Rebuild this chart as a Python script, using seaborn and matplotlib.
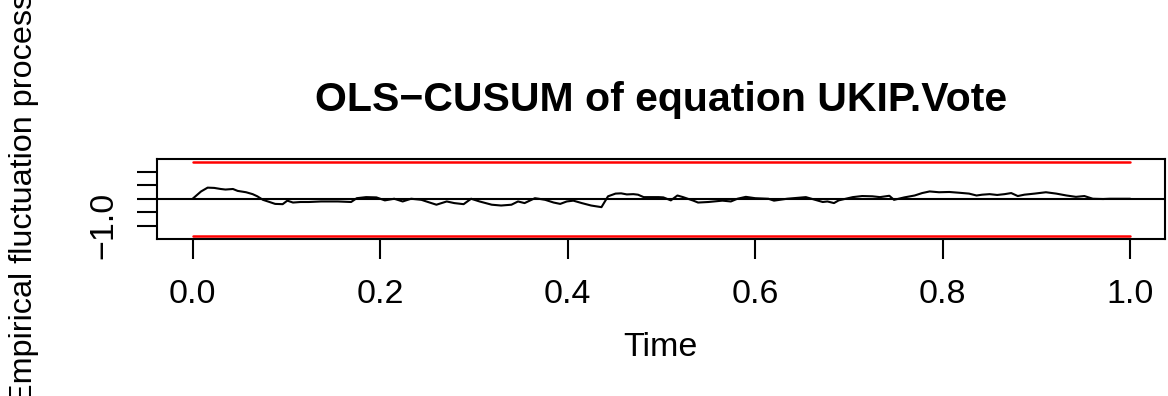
import numpy as np
import pandas as pd
import matplotlib
matplotlib.use("Agg")
import matplotlib.pyplot as plt
import seaborn as sns

# values
time = [0.000, 0.009, 0.016, 0.023, 0.030, 0.035, 0.043, 0.048, 0.057, 0.064,
        0.069, 0.075, 0.082, 0.088, 0.096, 0.101, 0.107, 0.115, 0.124, 0.137,
        0.155, 0.169, 0.175, 0.185, 0.196, 0.205, 0.215, 0.224, 0.233, 0.244,
        0.251, 0.260, 0.271, 0.279, 0.289, 0.297, 0.306, 0.319, 0.329, 0.340,
        0.347, 0.354, 0.365, 0.369, 0.376, 0.385, 0.392, 0.399, 0.406, 0.415,
        0.425, 0.436, 0.443, 0.451, 0.457, 0.463, 0.470, 0.475, 0.481, 0.497,
        0.502, 0.510, 0.517, 0.523, 0.534, 0.539, 0.550, 0.565, 0.574, 0.581,
        0.590, 0.600, 0.614, 0.620, 0.634, 0.654, 0.664, 0.672, 0.677, 0.684,
        0.689, 0.704, 0.714, 0.725, 0.733, 0.743, 0.748, 0.759, 0.770, 0.778,
        0.786, 0.796, 0.807, 0.818, 0.828, 0.836, 0.842, 0.850, 0.858, 0.866,
        0.873, 0.880, 0.887, 0.898, 0.910, 0.921, 0.932, 0.942, 0.951, 0.960,
        0.971, 0.978, 1.000]
process = [0.00, 0.27, 0.41, 0.40, 0.36, 0.34, 0.36, 0.29, 0.24, 0.17,
           0.09, -0.04, -0.12, -0.19, -0.20, -0.07, -0.14, -0.12, -0.12, -0.10,
           -0.10, -0.12, 0.02, 0.06, 0.05, -0.06, 0.00, -0.10, 0.00, -0.04,
           -0.12, -0.22, -0.10, -0.16, -0.20, 0.00, -0.10, -0.22, -0.25, -0.22,
           -0.10, -0.16, 0.02, 0.00, -0.04, -0.14, -0.19, -0.10, -0.07, -0.16,
           -0.25, -0.31, 0.09, 0.19, 0.20, 0.16, 0.17, 0.15, 0.06, 0.06,
           0.05, -0.06, 0.12, 0.06, -0.07, -0.14, -0.12, -0.07, -0.10, 0.00,
           0.07, 0.02, 0.00, -0.07, 0.00, 0.06, -0.04, -0.12, -0.10, -0.16,
           -0.06, 0.06, 0.10, 0.09, 0.06, 0.11, -0.04, 0.05, 0.12, 0.21,
           0.27, 0.24, 0.25, 0.22, 0.19, 0.12, 0.15, 0.17, 0.14, 0.17,
           0.21, 0.10, 0.15, 0.19, 0.24, 0.19, 0.12, 0.07, 0.10, 0.00,
           -0.01, 0.00, 0.00]
boundary = 1.358
xticks = [0.0, 0.2, 0.4, 0.6, 0.8, 1.0]
yticks = [-1.0, -0.5, 0.0, 0.5, 1.0]
ytick_labels = ["\u22121.0", "", "", "", ""]

df = pd.DataFrame({"Time": time, "process": process})
bounds = pd.DataFrame({"Time": [0.0, 1.0]})

sns.set_style("white")
plt.rcParams["font.family"] = ["Liberation Sans", "DejaVu Sans"]
plt.rcParams["axes.unicode_minus"] = True
plt.rcParams["text.color"] = "black"
plt.rcParams["axes.labelcolor"] = "black"

W, H = 1168, 396
fig = plt.figure(figsize=(W / 100, H / 100), dpi=100)
# plot box in pixels: left 157, right 1165, top 159, bottom 238.5
ax = fig.add_axes([157 / W, 1 - 238.5 / H, 1008 / W, 79.5 / H])

lw = 1.5
base = 24.5
sns.lineplot(data=df, x="Time", y="process", ax=ax, color="black", linewidth=lw)
ax.axhline(0, color="black", linewidth=lw)
sns.lineplot(x=bounds["Time"], y=[boundary, boundary], ax=ax, color="red", linewidth=lw + 0.3)
sns.lineplot(x=bounds["Time"], y=[-boundary, -boundary], ax=ax, color="red", linewidth=lw + 0.3)

ax.set_xlim(-0.038, 1.037)
ax.set_ylim(-1.467, 1.467)
ax.set_xticks(xticks)
ax.set_xticklabels([f"{v:.1f}" for v in xticks])
ax.set_yticks(yticks)
ax.set_yticklabels(ytick_labels)

for s in ax.spines.values():
    s.set_visible(True)
    s.set_color("black")
    s.set_linewidth(lw)

ax.tick_params(axis="both", direction="out", length=14.4, width=lw, color="black",
               labelsize=base, labelcolor="black", bottom=True, left=True)
ax.tick_params(axis="x", pad=15)
ax.tick_params(axis="y", pad=13)
plt.setp(ax.get_yticklabels(), rotation=90, va="center")

ax.set_xlabel("Time", fontsize=base)
ax.xaxis.label.set_va("center")
ax.xaxis.set_label_coords((660 - 157) / 1008, (238.5 - 348) / 79.5)
ax.set_ylabel("Empirical fluctuation process", fontsize=23.3)
ax.yaxis.label.set_va("center")
ax.yaxis.set_label_coords((24 - 157) / 1008, 0.5)

fig.text(661 / W, 1 - 100 / H, "OLS\u2212CUSUM of equation UKIP.Vote",
         ha="center", va="center", fontsize=29.5, fontweight="bold")

fig.savefig("out.png", dpi=100)
